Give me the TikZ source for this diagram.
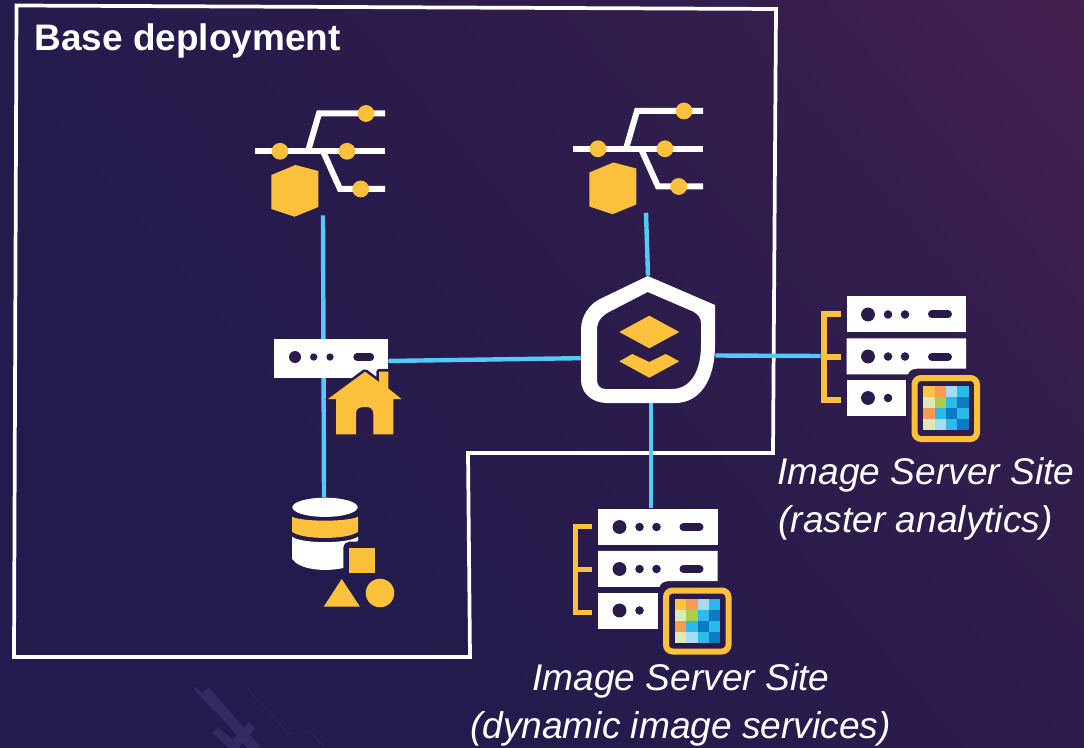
\documentclass[tikz,border=0pt]{standalone}
\usepackage{fontspec}
\setmainfont{Liberation Sans}
\definecolor{dk}{HTML}{2A1B4B}
\definecolor{gold}{HTML}{FBC13C}
\definecolor{wire}{HTML}{55CAF8}
\definecolor{cY}{HTML}{F9C542}
\definecolor{cO}{HTML}{F79B55}
\definecolor{cL}{HTML}{A5DCF0}
\definecolor{cB}{HTML}{2CB9EC}
\definecolor{cD}{HTML}{0C7BC2}
\definecolor{cP}{HTML}{DDE9B8}
\definecolor{cG}{HTML}{A9CE4A}
\definecolor{plane}{HTML}{332A61}
\definecolor{planethin}{HTML}{2A2356}
\definecolor{bga}{HTML}{211B4E}
\definecolor{bgb}{HTML}{291B4B}
\definecolor{bgc}{HTML}{311D4C}
\definecolor{bgd}{HTML}{43204F}
\definecolor{bge}{HTML}{4C2152}
\pgfdeclareverticalshading{bgsh}{100bp}{color(0bp)=(bga);color(30bp)=(bga);color(50bp)=(bgb);color(68bp)=(bgc);color(82bp)=(bgd);color(100bp)=(bge)}
\tikzset{
  conn/.style={draw=wire,line width=3.3pt},
  iconbox/.style={inner sep=0pt,minimum width=#1,minimum height=81pt},
  whitebar/.style={draw=white,line width=4.5pt},
  caption/.style={inner sep=0pt,anchor=base,text=white,font=\fontsize{27.85}{34}\selectfont\itshape},
  forkicon/.pic={
    \draw[whitebar] (255,151.3) -- (385,151.3);
    \draw[whitebar,line join=miter] (308,151.3) -- (319,113.5) -- (385,113.5);
    \draw[whitebar,line join=miter] (323,151.3) -- (340,189) -- (385,189);
    \fill[gold] (280,151.3) circle[radius=6.3pt] (366,113.5) circle[radius=6.3pt]
                (347,151.3) circle[radius=6.3pt] (360.7,189) circle[radius=6.3pt];
    \fill[gold] (295.5,165) -- (318.3,171) -- (318.3,207) -- (294.5,216.7) -- (271.3,209) -- (271.3,175) -- cycle;
  },
  serverstack/.pic={
    \draw[draw=gold,line width=4.2pt,line join=miter] (840.7,314) -- (824,314) -- (824,400) -- (840.7,400);
    \draw[draw=gold,line width=4.2pt] (824,357) -- (840.7,357);
    \fill[white] (846.7,296.3) rectangle (966,332.3);
    \fill[white] (846.7,338.3) -- (966,338.3) -- (966,368.7) -- (917,368.7) .. controls (912,368.7) and (909,371) .. (908,374.3) -- (846.7,374.3) -- cycle;
    \fill[white] (846.7,380) rectangle (906,416);
    \foreach \yy in {314.5,356.5}{
      \fill[dk] (868,\yy) circle[radius=5.2pt] (888,\yy) circle[radius=3.2pt] (905,\yy) circle[radius=3.2pt];
      \draw[draw=dk,line width=6pt,line cap=round] (932,\yy) -- (948,\yy);
    }
    \fill[dk] (868,398) circle[radius=5.2pt] (888,398) circle[radius=3.2pt];
    \draw[draw=gold,line width=4.5pt,rounded corners=5pt] (914.5,378) rectangle (977,439);
    \foreach \row [count=\j from 0] in {{cY,cO,cL,cB},{cP,cG,cB,cD},{cO,cB,cD,cB},{cP,cL,cB,cD}}{
      \foreach \c [count=\i from 0] in \row{
        \fill[\c] ({923.3+\i*11.35},{386+\j*11}) rectangle ({923.3+\i*11.35+11.45},{386+\j*11+11.1});
      }
    }
  }
}
\begin{document}
\begin{tikzpicture}[x=0.75pt,y=-0.75pt]
\useasboundingbox (0,0) rectangle (1084,748);
\shade[shading=bgsh,shading angle=-50] (0,0) rectangle (1084,748);
% watermark
\begin{scope}
\clip (0,0) rectangle (1084,748);
\draw[draw=plane,line width=8pt] (205,691) -- (265,760);
\draw[draw=plane,line width=2.5pt] (195,688) -- (215,710);
\draw[draw=plane,line width=6pt] (215,730) -- (240,752);
\draw[draw=plane,line width=7pt] (232,748) -- (252,725);
\draw[draw=planethin,line width=1pt] (248,689) -- (290,735);
\draw[draw=planethin,line width=1pt] (308,730) -- (325,748);
\end{scope}
% base deployment outline
\node[inner sep=0pt,anchor=base west,text=white,font=\fontsize{27.7}{33}\selectfont\bfseries] (title) at (34.5,51) {Base deployment};
\draw[draw=white,line width=2.8pt,line join=miter] (16.5,5.5) -- (776,9) -- (773,453) -- (468,453) -- (470,657) -- (14,657) -- cycle;
% icon boxes
\node[iconbox=97.5pt] (f1) at (323,161) {};
\node[iconbox=97.5pt] (f2) at (646,158.5) {};
\node[inner sep=0pt,minimum width=85.5pt,minimum height=29pt,fill=white] (gw) at (331.2,358.3) {};
\node[inner sep=0pt,minimum width=50pt,minimum height=82pt] (db) at (324,552) {};
\node[inner sep=0pt,minimum width=100.5pt,minimum height=95.5pt] (shield) at (648,339.5) {};
\node[inner sep=0pt,minimum width=108.8pt,minimum height=90pt] (ss1) at (893.5,356) {};
\node[inner sep=0pt,minimum width=108.8pt,minimum height=90pt] (ss2) at (645,568.5) {};
% connectors
\draw[conn] (f1.south) -- (db.north);
\draw[conn] (f2.south) -- (shield.north);
\draw[conn] ([yshift=-2pt]gw.east) -- ([yshift=-14pt]shield.west);
\draw[conn] ([yshift=-12pt]shield.east) -- (ss1.west);
\draw[conn] ([xshift=2.25pt]shield.south) -- ([xshift=4.5pt]ss2.north);
% forks
\pic at (0,0) {forkicon};
\pic at (318,-2.5) {forkicon};
% gateway
\node[inner sep=0pt,minimum width=85.5pt,minimum height=29pt,fill=white] at (gw.center) {};
\fill[dk] (295,357) circle[radius=4.5pt] (313.7,357) circle[radius=2.75pt] (330,357) circle[radius=2.75pt];
\draw[draw=dk,line width=5.5pt,line cap=round] (357,357) -- (370.5,357);
% house
\path[fill=dk,draw=dk,line width=4pt,line join=round] (365,371.7) -- (379,382) -- (379,371.7) -- (388.3,371.7) -- (388.3,388.5) -- (401.5,399) -- (393.3,399) -- (393.3,434.3) -- (336,434.3) -- (336,399) -- (328,399) -- cycle;
\path[fill=gold] (365,371.7) -- (379,382) -- (379,371.7) -- (388.3,371.7) -- (388.3,388.5) -- (401.5,399) -- (393.3,399) -- (393.3,434.3) -- (373.3,434.3) -- (373.3,414) .. controls (373.3,409) and (370,407) .. (367,407) -- (362,407) .. controls (359,407) and (356,409) .. (356,414) -- (356,434.3) -- (336,434.3) -- (336,399) -- (328,399) -- cycle;
% database
\fill[white] (325,507.3) ellipse[x radius=24.5pt,y radius=7.2pt];
\fill[gold] (292,516.7) .. controls (302,522) and (348,522) .. (358,516.7) -- (358,531.7) .. controls (348,540) and (302,540) .. (292,531.7) -- cycle;
\fill[white] (292,536.7) .. controls (302,544) and (348,544) .. (358,536.7) -- (358,540) .. controls (358,541) and (357,541.7) .. (356,541.7) -- (349,541.7) .. controls (346,541.7) and (343.3,544) .. (343.3,547) -- (343.3,568) .. controls (325,572) and (300,570) .. (292,559) -- cycle;
\fill[gold] (349,548.3) rectangle (375,573.3);
\fill[gold] (341.7,579) -- (360,606.7) -- (323.7,606.7) -- cycle;
\fill[gold] (380,593) circle[radius=10.7pt];
% shield
\path[fill=white,even odd rule]
  (647.7,276) -- (715,305) -- (715,345) .. controls (715,380) and (700,403) .. (675,403) -- (607,403) .. controls (592,403) and (581,393) .. (581,380) -- (581,330) .. controls (581,315) and (590,304) .. (600,299) -- cycle
  (647.7,292) -- (693,311.5) .. controls (698,314) and (701,318) .. (701,323) -- (701,345) .. controls (701,372) and (690,389) .. (672,389) -- (605,389) .. controls (600,389) and (597,385) .. (597,380) -- (597,330) .. controls (597,321) and (602,315.5) .. (610,311.5) -- cycle;
\fill[gold] (619.3,332) -- (649.3,315.7) -- (679.3,332) -- (649.3,348.3) -- cycle;
\fill[gold] (619.3,361.3) -- (632.3,354) -- (649.3,362) -- (665.7,354) -- (679.3,361.3) -- (649.3,377.7) -- cycle;
% servers
\pic at (0,0) {serverstack};
\pic at (-248.5,212.5) {serverstack};
% captions
\node[caption] (c1a) at (926,484) {Image Server Site};
\node[caption] (c1b) at (915.5,532) {(raster analytics)};
\node[caption] (c2a) at (681,690) {Image Server Site};
\node[caption] (c2b) at (680.5,738) {(dynamic image services)};
\end{tikzpicture}
\end{document}
